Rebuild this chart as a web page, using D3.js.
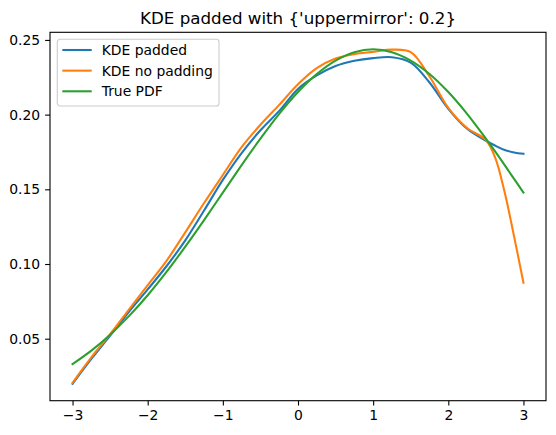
<!DOCTYPE html>
<html>
<head>
<meta charset="utf-8">
<script src="https://cdn.jsdelivr.net/npm/d3@7"></script>
<style>
  body { margin: 0; background: #fff; }
  svg { font-family: "DejaVu Sans", sans-serif; }
</style>
</head>
<body>
<svg id="chart" width="556" height="435"></svg>
<script>
// x grid shared by the three curves (a couple of extra points in the steep tail)
var xs = [-3, -2.75, -2.5, -2.25, -2, -1.75, -1.5, -1.25, -1, -0.75, -0.5, -0.25,
          0, 0.25, 0.5, 0.75, 1, 1.25, 1.5, 1.75, 2, 2.25, 2.5, 2.625, 2.75, 2.875, 3];

var kdePadded = [0.0198, 0.0365, 0.052, 0.068, 0.083, 0.0985, 0.1158, 0.1358, 0.1563, 0.1743, 0.1895, 0.2025,
                 0.2172, 0.2262, 0.2325, 0.236, 0.2378, 0.2384, 0.2348, 0.2215, 0.2039, 0.1905, 0.1825, 0.1792, 0.1763, 0.1747, 0.1738];

var kdeNoPad = [0.0205, 0.0375, 0.053, 0.0695, 0.0858, 0.1021, 0.1212, 0.1408, 0.1596, 0.1782, 0.1932, 0.2065,
                0.2203, 0.2311, 0.2375, 0.2405, 0.242, 0.2435, 0.2418, 0.2255, 0.2045, 0.191, 0.183, 0.171, 0.148, 0.1185, 0.0875];

var truePdf = [0.033, 0.042, 0.0527, 0.0651, 0.0791, 0.0947, 0.1116, 0.1294, 0.1478, 0.1662, 0.1839, 0.2005,
               0.2151, 0.2272, 0.2362, 0.2418, 0.2437, 0.2418, 0.2362, 0.2272, 0.2151, 0.2005, 0.1839, 0.1752, 0.1662, 0.157, 0.1478];

var xTicks = [-3, -2, -1, 0, 1, 2, 3];
var yTicks = [0.05, 0.10, 0.15, 0.20, 0.25];

var seriesNames = ["KDE padded", "KDE no padding", "True PDF"];
var colors = ["#1f77b4", "#ff7f0e", "#2ca02c"];

var margin = {top: 32.3, right: 10, bottom: 34.3, left: 50},
    width = 556 - margin.left - margin.right,
    height = 435 - margin.top - margin.bottom;

var x = d3.scaleLinear().domain([-3.3, 3.3]).range([0, width]);
var y = d3.scaleLinear().domain([0.0085, 0.2551]).range([height, 0]);

var svg = d3.select("#chart")
    .append("g")
    .attr("transform", "translate(" + margin.left + "," + margin.top + ")");

// title
svg.append("text")
    .attr("x", width / 2)
    .attr("y", -8.3)
    .attr("text-anchor", "middle")
    .style("font-size", "16.7px")
    .style("fill", "#000")
    .text("KDE padded with {'uppermirror': 0.2}");

// axes
var xAxis = d3.axisBottom(x).tickValues(xTicks).tickFormat(d3.format("d"))
    .tickSizeInner(4.9).tickSizeOuter(0).tickPadding(4.9);
var yAxis = d3.axisLeft(y).tickValues(yTicks).tickFormat(d3.format(".2f"))
    .tickSizeInner(4.9).tickSizeOuter(0).tickPadding(4.9);

var gx = svg.append("g")
    .attr("transform", "translate(0," + height + ")")
    .call(xAxis);
var gy = svg.append("g").call(yAxis);

[gx, gy].forEach(function(g) {
    g.select(".domain").remove();
    g.selectAll("line").attr("stroke", "#000").attr("stroke-width", 1.1);
    g.selectAll("text").style("font-size", "13.9px").style("fill", "#000")
        .style("font-family", "DejaVu Sans, sans-serif");
});

// curves
var data = [kdePadded, kdeNoPad, truePdf];
var line = d3.line()
    .x(function(d, i) { return x(xs[i]); })
    .y(function(d) { return y(d); })
    .curve(d3.curveCatmullRom.alpha(0.5));

svg.selectAll(".series")
    .data(data)
    .enter().append("path")
    .attr("class", "series")
    .attr("d", line)
    .attr("fill", "none")
    .attr("stroke", function(d, i) { return colors[i]; })
    .attr("stroke-width", 2.08)
    .attr("stroke-linejoin", "round")
    .attr("stroke-linecap", "square");

// spines
svg.append("rect")
    .attr("width", width)
    .attr("height", height)
    .attr("fill", "none")
    .attr("stroke", "#000")
    .attr("stroke-width", 1.1);

// legend
var legend = svg.append("g")
    .attr("transform", "translate(7.3,7)");

legend.append("rect")
    .attr("width", 161.7)
    .attr("height", 66.7)
    .attr("rx", 2.8)
    .attr("fill", "#fff")
    .attr("fill-opacity", 0.8)
    .attr("stroke", "#cccccc")
    .attr("stroke-width", 1.1);

var items = legend.selectAll(".item")
    .data(seriesNames)
    .enter().append("g")
    .attr("class", "item")
    .attr("transform", function(d, i) { return "translate(0," + (10.7 + i * 20.65) + ")"; });

items.append("line")
    .attr("x1", 5)
    .attr("x2", 34.4)
    .attr("stroke", function(d, i) { return colors[i]; })
    .attr("stroke-width", 2.08);

items.append("text")
    .attr("x", 44.4)
    .attr("dy", "0.36em")
    .style("font-size", "13.9px")
    .style("fill", "#000")
    .text(function(d) { return d; });
</script>
</body>
</html>
